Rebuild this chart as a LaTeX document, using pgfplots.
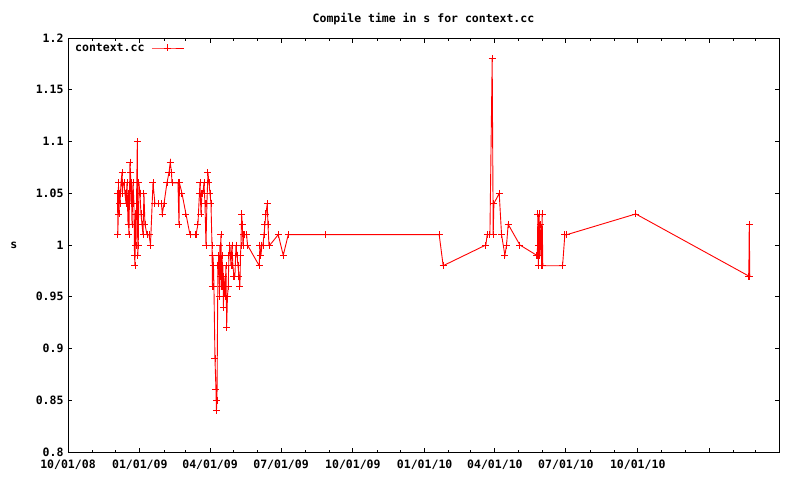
\documentclass[border=0pt]{standalone}
\usepackage{pgfplots}
\pgfplotsset{compat=1.18}
\usepackage{fontspec}
\newfontfamily\gpfont{DejaVu Sans Mono}
\newcommand\gpf{\gpfont\bfseries\fontsize{11.5pt}{13pt}\selectfont}
\pgfplotstableread{
day val
63.4 1.05
64.0 1.01
64.7 1.06
65.3 1.03
66.0 1.05
66.6 1.04
67.9 1.06
69.2 1.07
69.8 1.05
70.4 1.06
71.7 1.06
73.0 1.05
74.3 1.04
75.6 1.06
76.9 1.02
77.5 1.05
78.1 1.01
79.4 1.08
80.1 1.07
80.7 1.04
81.3 1.06
82.0 1.02
83.3 1.06
84.5 1.04
85.2 0.99
85.8 0.98
86.5 1.03
87.1 1.00
88.8 1.10
89.4 0.99
90.0 1.00
90.9 1.06
92.2 1.05
93.5 1.03
94.8 1.02
96.1 1.01
97.3 1.05
98.6 1.02
101.2 1.01
103.8 1.01
105.7 1.00
108.9 1.06
111.4 1.04
115.3 1.04
119.8 1.04
120.8 1.03
123.0 1.04
126.8 1.06
129.4 1.07
131.0 1.08
132.6 1.07
133.2 1.06
140.9 1.06
142.2 1.02
142.8 1.06
146.0 1.05
151.1 1.03
156.3 1.01
162.7 1.01
164.0 1.01
166.5 1.02
168.4 1.05
169.1 1.06
170.4 1.03
171.6 1.05
172.9 1.05
174.2 1.06
175.5 1.04
176.8 1.00
178.0 1.04
179.3 1.07
180.6 1.06
181.9 1.05
183.2 1.04
184.5 1.00
185.1 0.96
185.7 0.99
186.4 0.98
187.0 0.96
188.3 0.89
189.6 0.86
190.2 0.84
190.9 0.85
192.1 0.98
193.4 0.99
194.1 0.95
194.7 1.00
195.3 0.97
196.0 1.01
196.6 0.96
197.3 0.99
197.9 0.96
198.5 0.98
199.2 0.94
199.8 0.97
201.1 0.95
202.4 0.98
203.3 0.92
204.3 0.95
205.3 0.96
206.2 0.99
207.5 1.00
208.8 0.98
210.1 1.00
211.3 0.98
212.6 0.97
213.9 0.97
215.2 1.00
216.5 0.99
217.8 0.98
219.0 0.97
220.3 0.96
221.0 0.99
221.6 1.00
222.5 1.03
223.3 1.02
224.2 1.00
225.4 1.01
226.7 1.01
228.9 1.01
229.9 1.00
245.0 0.98
245.9 1.00
247.2 0.99
248.5 1.00
249.8 1.00
251.1 1.01
252.3 1.02
253.6 1.03
255.3 1.04
256.2 1.02
257.5 1.00
258.7 1.00
269.4 1.01
275.8 0.99
282.2 1.01
330.5 1.01
475.6 1.01
480.7 0.98
535.4 1.00
537.1 1.01
540.6 1.01
543.5 1.18
544.8 1.01
545.7 1.04
552.5 1.05
555.5 1.01
559.8 0.99
561.9 1.00
564.0 1.02
579.0 1.00
600.7 0.99
601.4 0.99
602.0 1.03
602.7 0.98
603.3 1.00
603.7 1.03
604.6 0.99
605.9 1.02
606.8 0.98
607.5 1.03
608.4 0.98
633.7 0.98
636.6 1.01
639.2 1.01
727.5 1.03
872.3 0.97
872.9 1.02
873.6 0.97
}\ctx
\begin{document}
\begin{tikzpicture}[x=1pt,y=1pt]
\useasboundingbox (-68,-28) rectangle (732,452);
\begin{axis}[
  at={(0,0)}, anchor=south west,
  scale only axis, width=711pt, height=414pt,
  xmin=0, xmax=911, ymin=0.8, ymax=1.2,
  axis line style={black, line width=0.9pt},
  tick style={black, line width=0.9pt},
  major tick length=4.5pt, minor tick length=2.5pt,
  tick align=inside,
  xtick={0,92,182,273,365,457,547,638,730,822},
  xticklabels={10/01/08,01/01/09,04/01/09,07/01/09,10/01/09,01/01/10,04/01/10,07/01/10,10/01/10,},
  minor xtick={31,61,123,151,212,243,304,335,396,426,488,516,577,608,669,700,761,791,853,881},
  ytick={0.8,0.85,0.9,0.95,1,1.05,1.1,1.15,1.2},
  yticklabels={0.8,0.85,0.9,0.95,1,1.05,1.1,1.15,1.2},
  tick label style={font=\gpf},
  xticklabel style={yshift=-4pt},
  yticklabel style={xshift=-1pt},
  title={Compile time in s for context.cc},
  title style={font=\gpf, at={(axis description cs:0.5,1)}, anchor=center, yshift=13pt},
  ylabel={s},
  ylabel style={font=\gpf, at={(axis description cs:-0.076,0.5)}, anchor=center, rotate=-90},
  legend plot pos=right,
  legend style={at={(axis description cs:0,1)}, anchor=north west, xshift=6pt, yshift=-4pt,
    draw=none, fill=none, font=\gpf, inner sep=0pt, column sep=6pt,
    nodes={inner sep=1pt}},
  legend image code/.code={\draw[mark repeat=2,mark phase=2] plot coordinates {(0pt,0pt) (16pt,0pt) (32pt,0pt)};},
]
\addplot[red, line width=0.9pt, mark=+, mark size=3.5pt, mark options={solid, line width=0.9pt}] table[x=day, y=val] {\ctx};
\addlegendentry{context.cc}
\end{axis}
\end{tikzpicture}
\end{document}
